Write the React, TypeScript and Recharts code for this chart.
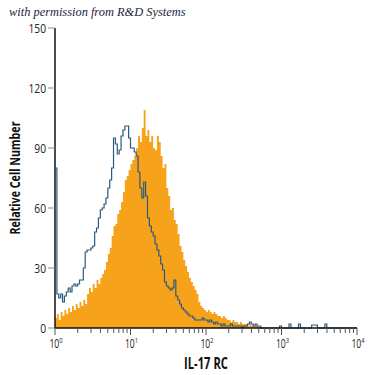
import React from "react";
import { ComposedChart, Area, Line, XAxis, YAxis, Label } from "recharts";

// Histogram counts per channel (40 channels per decade, 10^0 .. 10^4)
const il17rcCounts = [
  5, 7, 4, 8, 6, 9, 7, 10, 8, 11,
  9, 12, 10, 13, 11, 14, 12, 17, 20, 18,
  22, 20, 24, 22, 25, 27, 29, 33, 37, 40,
  46, 51, 52, 57, 59, 63, 68, 74, 76, 79,
  82, 84, 86, 90, 96, 93, 100, 109, 96, 99,
  93, 96, 90, 89, 96, 93, 86, 80, 82, 70,
  66, 59, 60, 54, 52, 47, 41, 38, 34, 31,
  28, 25, 23, 21, 19, 17, 13, 11, 10, 9,
  8, 9, 8, 7, 8, 7, 6, 6, 5, 6,
  5, 4, 4, 3, 4, 3, 3, 2, 3, 2,
  2, 2, 1, 2, 1, 1, 1, 1, 0.5, 0.5,
  0,
];

const isotypeCounts = [
  80, 17, 15, 17, 13, 16, 18, 20, 18, 21,
  22, 21, 22, 24, 24, 30, 38, 39, 39, 40,
  41, 48, 50, 55, 59, 60, 62, 65, 70, 74,
  80, 95, 92, 87, 89, 96, 99, 101, 101, 95,
  90, 90, 88, 86, 78, 70, 65, 73, 66, 55,
  51, 48, 46, 42, 39, 36, 32, 29, 23, 21,
  20, 19, 20, 24, 16, 14, 12, 10, 9, 8,
  7, 6, 6, 5, 4, 4, 4, 4, 5, 4,
  4, 3, 4, 3, 2, 3, 2, 2, 1, 2,
  1, 1, 1, 2, 1, 1, 1, 1, 1, 0,
  1, 1, 2, 3, 2, 1, 2, 1, 1, 0,
  0, 0, 0, 0, 0, 0, 0, 0, 0, 1,
  0, 0, 0, 0, 2, 0, 0, 0, 0, 2,
  0, 0, 0, 0, 0, 0, 1.5, 1.5, 1.5, 0,
  0, 0, 0, 2, 0, 0, 0, 0, 0, 0,
  0, 0, 0, 0, 0, 0, 0, 0, 0, 0,
];

const channelsPerDecade = 40;
const decadeExponents = ["0", "1", "2", "3", "4"];
const minorMultipliers = [2, 3, 4, 5, 6, 7, 8, 9];
const yTicks = [0, 30, 60, 90, 120, 150];

const totalChannels = channelsPerDecade * (decadeExponents.length - 1);

const table = Array.from({ length: totalChannels + 1 }, (_, i) => ({
  ch: i,
  il17: il17rcCounts[i] ?? 0,
  iso: isotypeCounts[i] ?? 0,
}));

const xTicks: number[] = [];
decadeExponents.forEach((_, d) => {
  xTicks.push(d * channelsPerDecade);
  if (d < decadeExponents.length - 1) {
    minorMultipliers.forEach((m) => xTicks.push((d + Math.log10(m)) * channelsPerDecade));
  }
});

const sans = "'Open Sans', 'Noto Sans', sans-serif";

function XTick(props: any) {
  const { x, y, payload } = props;
  const v = payload.value as number;
  const d = Math.round(v / channelsPerDecade);
  const major = Math.abs(v - d * channelsPerDecade) < 1e-6;
  return (
    <g>
      <line x1={x} y1={y} x2={x} y2={y + (major ? 7 : 5)} stroke="#555" strokeWidth={1} />
      {major && (
        <g transform={`translate(${x + 1} ${y + 20}) scale(0.72 1)`}>
          <text x={0} y={0} textAnchor="middle" fontSize={12} fontFamily={sans} fill="#222">
            10
            <tspan dy={-5} fontSize={8}>
              {decadeExponents[d]}
            </tspan>
          </text>
        </g>
      )}
    </g>
  );
}

function YTick(props: any) {
  const { x, y, payload } = props;
  return (
    <g transform={`translate(${x} ${y}) scale(0.82 1)`}>
      <text x={0} y={0} dy="0.36em" textAnchor="end" fontSize={12.5} fontFamily={sans} fill="#222">
        {payload.value}
      </text>
    </g>
  );
}

export default function App() {
  return (
    <div style={{ position: "absolute", left: 0, top: 0, width: 375, height: 375, background: "#fff" }}>
      <div
        style={{
          position: "absolute",
          left: 9,
          top: 5,
          lineHeight: "14px",
          fontFamily: "'Liberation Serif', 'DejaVu Serif', serif",
          fontStyle: "italic",
          fontSize: 12.4,
          color: "#1c2540",
          whiteSpace: "nowrap",
          zIndex: 2,
        }}
      >
        with permission from R&amp;D Systems
      </div>
      <ComposedChart width={375} height={375} data={table} margin={{ top: 28, right: 18, left: 0, bottom: 0 }}>
        <Area
          dataKey="il17"
          type="stepAfter"
          fill="#F7A21B"
          fillOpacity={1}
          stroke="none"
          isAnimationActive={false}
        />
        <Line
          dataKey="iso"
          type="stepAfter"
          stroke="#2b5a7d"
          strokeWidth={1.2}
          dot={false}
          isAnimationActive={false}
        />
        <XAxis
          dataKey="ch"
          type="number"
          domain={[0, totalChannels]}
          ticks={xTicks}
          interval={0}
          height={47}
          tickSize={0}
          tickMargin={0}
          tickLine={false}
          axisLine={{ stroke: "#111", strokeWidth: 1.5 }}
          tick={<XTick />}
        >
          <Label
            content={(p: any) => {
              const vb = p.viewBox;
              return (
                <g transform={`translate(${vb.x + vb.width / 2} ${vb.y + 41}) scale(0.7 1)`}>
                  <text x={0} y={0} textAnchor="middle" fontSize={16} fontWeight="bold" fontFamily={sans} fill="#111">
                    IL-17 RC
                  </text>
                </g>
              );
            }}
          />
        </XAxis>
        <YAxis
          type="number"
          domain={[0, 150]}
          ticks={yTicks}
          width={55}
          tickSize={7}
          tickMargin={2}
          tickLine={{ stroke: "#888" }}
          axisLine={{ stroke: "#111", strokeWidth: 1.5 }}
          tick={<YTick />}
        >
          <Label
            content={(p: any) => {
              const vb = p.viewBox;
              const cx = vb.x + 14;
              const cy = vb.y + vb.height / 2;
              return (
                <g transform={`translate(${cx} ${cy}) rotate(-90) scale(0.74 1)`}>
                  <text
                    x={0}
                    y={0}
                    textAnchor="middle"
                    dominantBaseline="central"
                    fontSize={14.5}
                    fontWeight="bold"
                    fontFamily={sans}
                    fill="#111"
                  >
                    Relative Cell Number
                  </text>
                </g>
              );
            }}
          />
        </YAxis>
      </ComposedChart>
    </div>
  );
}
